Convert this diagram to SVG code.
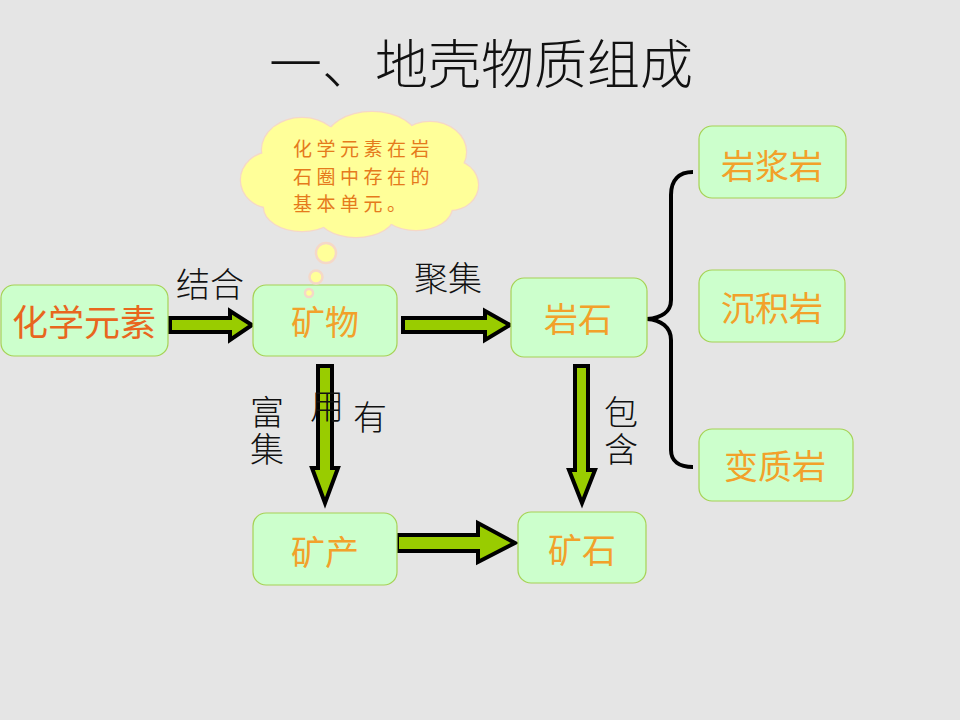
<svg xmlns="http://www.w3.org/2000/svg" width="960" height="720" viewBox="0 0 960 720">
<style>
.bg{fill:#e5e5e5}
.node{fill:#ccffcc;stroke:#a6d255;stroke-width:1.2}
.nt{font-family:"Noto Sans CJK SC","Noto Sans CJK JP",sans-serif;font-size:34px;fill:#f2a12a;text-anchor:middle}
.lbl{font-family:"Noto Sans CJK SC","Noto Sans CJK JP",sans-serif;font-size:34px;fill:#111;text-anchor:middle;font-weight:300}
.vl{font-family:"Noto Sans CJK SC","Noto Sans CJK JP",sans-serif;font-size:34px;fill:#111;font-weight:300;writing-mode:vertical-rl;letter-spacing:3px}
.arrow{fill:#99cc00;stroke:#000;stroke-width:4;stroke-linejoin:miter}
.cloudo{fill:#ffff99;stroke:#f5d8c8;stroke-width:2.5}
.cloudi{fill:#ffff99}
.ct{font-family:"Noto Sans CJK SC","Noto Sans CJK JP",sans-serif;font-size:19px;fill:#e57a1c;letter-spacing:4.5px}
</style>
<rect class="bg" x="0" y="0" width="960" height="720"/>
<text x="481" y="84" style="font-family:'Noto Sans CJK SC','Noto Sans CJK JP',sans-serif;font-size:53px;fill:#111;text-anchor:middle;font-weight:300">一、地壳物质组成</text>

<g id="cloud">
  <g>
    <ellipse class="cloudo" cx="360" cy="175" rx="95" ry="50"/>
    <ellipse class="cloudo" cx="302" cy="150" rx="40" ry="32"/>
    <ellipse class="cloudo" cx="372" cy="141" rx="46" ry="29"/>
    <ellipse class="cloudo" cx="430" cy="152" rx="36" ry="30"/>
    <ellipse class="cloudo" cx="450" cy="185" rx="28" ry="25"/>
    <ellipse class="cloudo" cx="272" cy="180" rx="31" ry="28"/>
    <ellipse class="cloudo" cx="302" cy="207" rx="38" ry="24"/>
    <ellipse class="cloudo" cx="356" cy="212" rx="40" ry="25"/>
    <ellipse class="cloudo" cx="416" cy="207" rx="36" ry="23"/>
  </g>
  <g>
    <ellipse class="cloudi" cx="360" cy="175" rx="95" ry="50"/>
    <ellipse class="cloudi" cx="302" cy="150" rx="40" ry="32"/>
    <ellipse class="cloudi" cx="372" cy="141" rx="46" ry="29"/>
    <ellipse class="cloudi" cx="430" cy="152" rx="36" ry="30"/>
    <ellipse class="cloudi" cx="450" cy="185" rx="28" ry="25"/>
    <ellipse class="cloudi" cx="272" cy="180" rx="31" ry="28"/>
    <ellipse class="cloudi" cx="302" cy="207" rx="38" ry="24"/>
    <ellipse class="cloudi" cx="356" cy="212" rx="40" ry="25"/>
    <ellipse class="cloudi" cx="416" cy="207" rx="36" ry="23"/>
  </g>
  <text class="ct" x="293" y="156">化学元素在岩</text>
  <text class="ct" x="293" y="184">石圈中存在的</text>
  <text class="ct" x="293" y="211">基本单元。</text>
</g>

<g id="connectors">
  <polygon class="arrow" points="170,318 230,318 230,311 252,325 230,340 230,332 170,332"/>
  <polygon class="arrow" points="403,318 485,318 485,311 510,325 485,340 485,332 403,332"/>
  <polygon class="arrow" points="318,366 332,366 332,468 338,468 325,503 312,468 318,468"/>
  <polygon class="arrow" points="575,366 588,366 588,470 595,470 582,503 569,470 575,470"/>
  <polygon class="arrow" points="397,535 478,535 478,523 515,543 478,562 478,551 397,551"/>
  <path d="M693,172 C679,172 671,180 671,195 L671,300 C671,312 661,318 647,319 C661,320 671,327 671,340 L671,450 C671,461 679,467 693,467" fill="none" stroke="#000" stroke-width="4"/>
</g>

<g id="labels">
  <text class="lbl" x="210" y="297">结合</text>
  <text class="lbl" x="448" y="291">聚集</text>
  <text class="vl" x="267" y="395">富集</text>
  <text class="lbl" x="327" y="419">用</text>
  <text class="lbl" x="370" y="430">有</text>
  <text class="vl" x="621" y="395">包含</text>
</g>

<g id="n-elements"><rect class="node" x="1" y="285" width="167" height="71" rx="13"/><text class="nt" x="84" y="336" style="font-size:36px;fill:#e8661e">化学元素</text></g>
<g id="n-mineral"><rect class="node" x="253" y="285" width="144" height="71" rx="13"/><text class="nt" x="325" y="335">矿物</text></g>
<g id="n-rock"><rect class="node" x="511" y="278" width="136" height="79" rx="13"/><text class="nt" x="578" y="332">岩石</text></g>
<g id="n-deposit"><rect class="node" x="253" y="513" width="144" height="72" rx="13"/><text class="nt" x="325" y="565">矿产</text></g>
<g id="n-ore"><rect class="node" x="518" y="512" width="128" height="71" rx="13"/><text class="nt" x="582" y="563">矿石</text></g>
<g id="n-igneous"><rect class="node" x="699" y="126" width="147" height="72" rx="13"/><text class="nt" x="772" y="179">岩浆岩</text></g>
<g id="n-sedimentary"><rect class="node" x="699" y="270" width="146" height="72" rx="13"/><text class="nt" x="772" y="321">沉积岩</text></g>
<g id="n-metamorphic"><rect class="node" x="699" y="429" width="154" height="72" rx="13"/><text class="nt" x="775" y="479">变质岩</text></g>

<g id="cloud-bubbles">
  <circle class="cloudo" cx="326" cy="253" r="10"/>
  <circle class="cloudo" cx="316" cy="277" r="6.5"/>
  <circle class="cloudo" cx="309" cy="293" r="4"/>
</g>
</svg>
